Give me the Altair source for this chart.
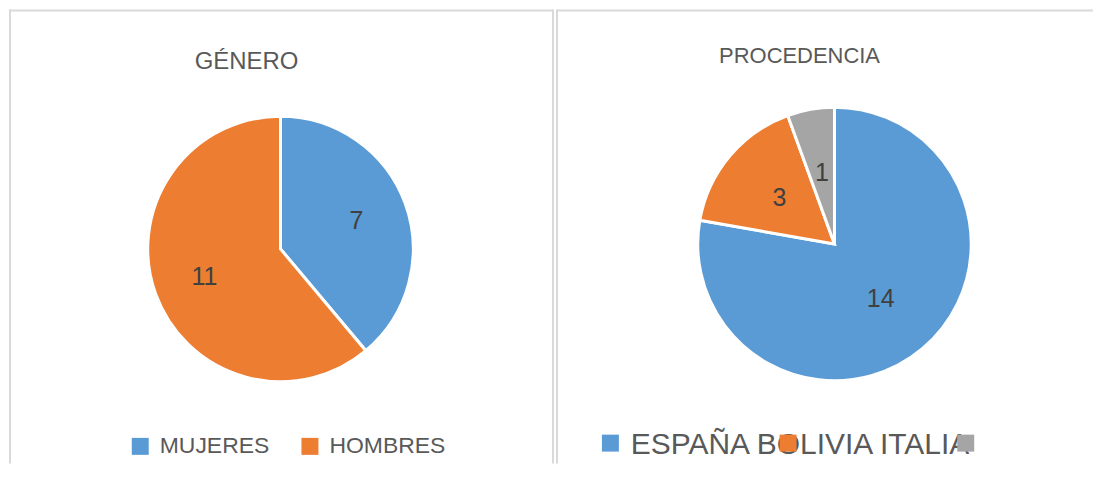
import altair as alt
import pandas as pd

# ---- data ----
genero_cats = ["MUJERES", "HOMBRES"]
genero_vals = [7, 11]
genero_colors = ["#5B9BD5", "#ED7D31"]

proc_cats = ["ESPAÑA", "BOLIVIA", "ITALIA"]
proc_vals = [14, 3, 1]
proc_colors = ["#5B9BD5", "#ED7D31", "#A5A5A5"]

titles = ["GÉNERO", "PROCEDENCIA"]

FONT = "Liberation Sans"
BORDER = "#D9D9D9"
H = 455


def frame(width, right_border):
    one = alt.Chart(pd.DataFrame({"k": [0]}))
    layers = [
        one.mark_rule(color=BORDER, strokeWidth=2).encode(
            x=alt.value(1), y=alt.value(0), y2=alt.value(H)),
        one.mark_rule(color=BORDER, strokeWidth=2).encode(
            x=alt.value(0), x2=alt.value(width), y=alt.value(1)),
    ]
    if right_border:
        layers.append(one.mark_rule(color=BORDER, strokeWidth=2).encode(
            x=alt.value(width - 1), y=alt.value(0), y2=alt.value(H)))
    return layers


def pie_layers(df, cats, colors, cx, cy, r, label_r, legend):
    base = alt.Chart(df)
    arcs = base.mark_arc(outerRadius=r, stroke="white", strokeWidth=3).encode(
        theta=alt.Theta("val:Q", stack=True),
        order=alt.Order("ord:Q"),
        color=alt.Color("cat:N", sort=cats,
                        scale=alt.Scale(domain=cats, range=colors),
                        legend=legend),
        x=alt.value(cx), y=alt.value(cy),
    )
    labels = base.mark_text(radius=label_r, fontSize=25, font=FONT,
                            color="#404040").encode(
        theta=alt.Theta("val:Q", stack=True),
        order=alt.Order("ord:Q"),
        text="val:Q",
        x=alt.value(cx), y=alt.value(cy),
    )
    return [arcs, labels]


# ---------- left panel: GÉNERO ----------
WL = 546
df_g = pd.DataFrame({"cat": genero_cats, "val": genero_vals,
                     "ord": list(range(len(genero_cats)))})
leg_g = alt.Legend(title=None, orient="none", legendX=120, legendY=426,
                   direction="horizontal", symbolType="square",
                   symbolSize=289, symbolStrokeWidth=0, labelFontSize=23,
                   labelFont=FONT, labelColor="#595959", labelOffset=8,
                   columnPadding=29, padding=0)
title_g = alt.Chart(pd.DataFrame({"t": [titles[0]]})).mark_text(
    fontSize=24, font=FONT, color="#595959", align="center",
    baseline="alphabetic").encode(x=alt.value(238), y=alt.value(60), text="t:N")

left = alt.layer(
    *frame(WL, True),
    *pie_layers(df_g, genero_cats, genero_colors, 272, 240, 133, 81, leg_g),
    title_g,
).properties(width=WL, height=H)

# ---------- right panel: PROCEDENCIA ----------
WR = 538
df_p = pd.DataFrame({"cat": proc_cats, "val": proc_vals,
                     "ord": list(range(len(proc_cats)))})
leg_p = alt.Legend(title=None, orient="none", legendX=46, legendY=426,
                   direction="horizontal", symbolType="square",
                   symbolSize=289, symbolStrokeWidth=0, labelFontSize=10,
                   labelFont=FONT, labelOpacity=0, labelOffset=11,
                   labelExpr="'M'", columnPadding=141, padding=0)
title_p = alt.Chart(pd.DataFrame({"t": [titles[1]]})).mark_text(
    fontSize=22, font=FONT, color="#595959", align="center",
    baseline="alphabetic").encode(x=alt.value(244), y=alt.value(54), text="t:N")
legend_text = alt.Chart(pd.DataFrame({"t": [" ".join(proc_cats)]})).mark_text(
    fontSize=30, font=FONT, color="#595959", align="left",
    baseline="alphabetic").encode(x=alt.value(75), y=alt.value(445), text="t:N")

right = alt.layer(
    *frame(WR, False),
    *pie_layers(df_p, proc_cats, proc_colors, 279, 235, 137, 72, leg_p),
    title_p,
    legend_text,
).properties(width=WR, height=H)

chart = alt.hconcat(left, right, spacing=0).resolve_scale(
    color="independent", theta="independent").resolve_legend(
    color="independent").properties(padding=0).configure(
    font=FONT).configure_view(strokeWidth=0, strokeOpacity=0)

chart.save("out.html", embed_options={"renderer": "svg", "actions": False})
